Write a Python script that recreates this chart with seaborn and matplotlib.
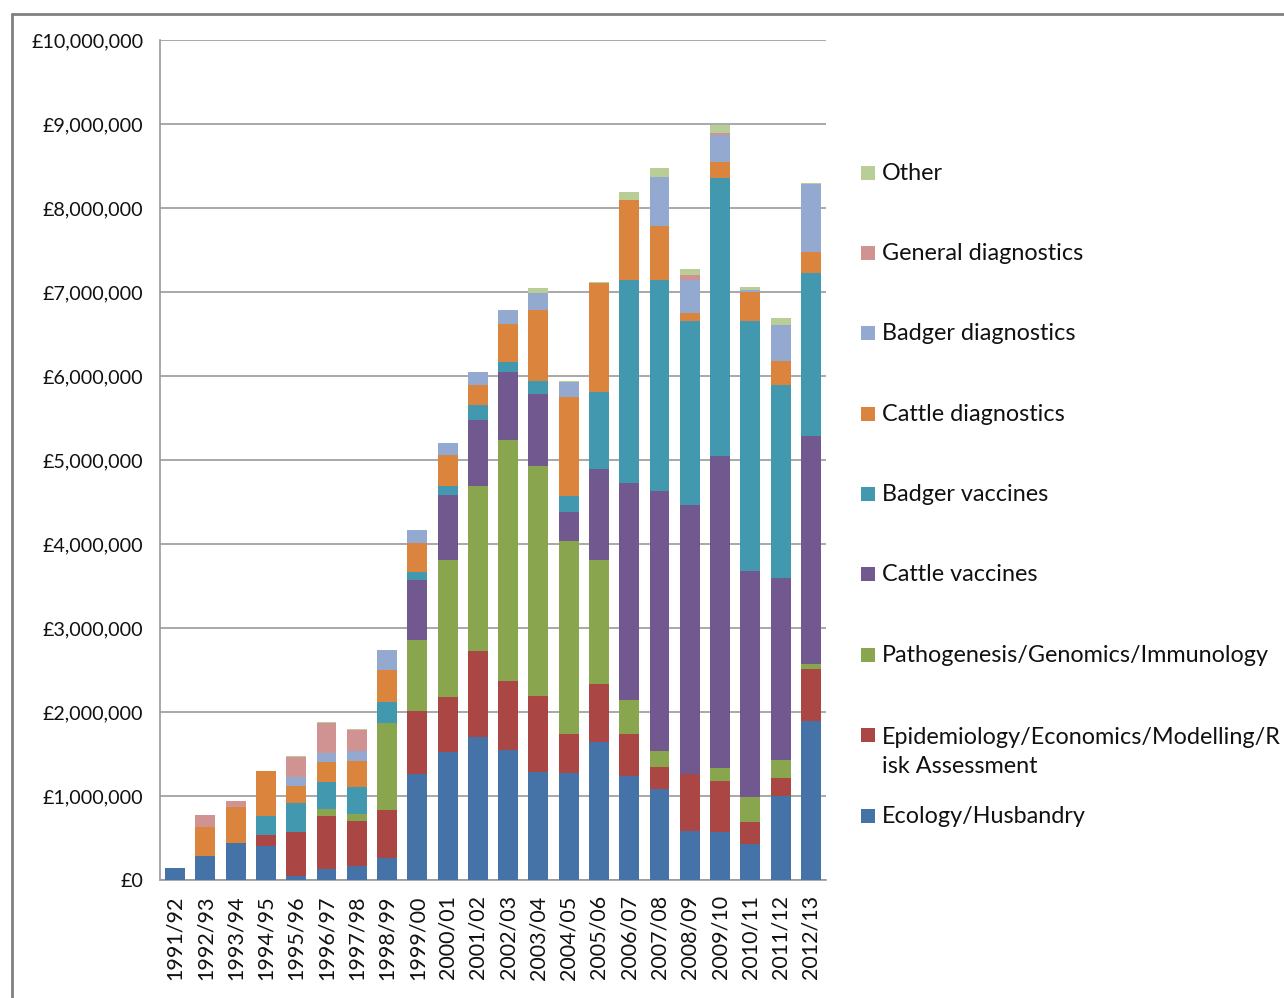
import matplotlib
matplotlib.use("Agg")
import matplotlib.pyplot as plt
import matplotlib.ticker as mticker
from matplotlib.patches import Rectangle
from matplotlib.lines import Line2D
import seaborn as sns
import numpy as np
import pandas as pd

years = ["1991/92", "1992/93", "1993/94", "1994/95", "1995/96", "1996/97", "1997/98",
         "1998/99", "1999/00", "2000/01", "2001/02", "2002/03", "2003/04", "2004/05",
         "2005/06", "2006/07", "2007/08", "2008/09", "2009/10", "2010/11", "2011/12", "2012/13"]

# values in £ millions
ecology = [0.14, 0.29, 0.44, 0.41, 0.05, 0.127, 0.17, 0.26, 1.258, 1.52, 1.70, 1.548, 1.286,
           1.268, 1.642, 1.241, 1.087, 0.584, 0.572, 0.432, 1.0, 1.893]
epidemiology = [0, 0, 0, 0.13, 0.525, 0.63, 0.536, 0.577, 0.758, 0.66, 1.026, 0.825, 0.908,
                0.467, 0.697, 0.494, 0.264, 0.678, 0.602, 0.257, 0.216, 0.619]
pathogenesis = [0, 0, 0, 0, 0, 0.087, 0.08, 1.036, 0.84, 1.633, 1.968, 2.861, 2.74,
                2.30, 1.47, 0.407, 0.181, 0, 0.164, 0.298, 0.216, 0.064]
cattle_vaccines = [0, 0, 0, 0, 0, 0, 0, 0, 0.71, 0.774, 0.786, 0.818, 0.85,
                   0.341, 1.083, 2.58, 3.10, 3.2, 3.71, 2.69, 2.16, 2.71]
badger_vaccines = [0, 0, 0, 0.225, 0.34, 0.32, 0.325, 0.25, 0.10, 0.107, 0.171, 0.115, 0.157,
                   0.197, 0.922, 2.42, 2.51, 2.19, 3.31, 2.98, 2.30, 1.935]
cattle_diagnostics = [0, 0.34, 0.425, 0.53, 0.21, 0.235, 0.306, 0.38, 0.34, 0.366, 0.238, 0.456, 0.843,
                      1.181, 1.29, 0.95, 0.64, 0.10, 0.19, 0.34, 0.29, 0.255]
badger_diagnostics = [0, 0, 0, 0, 0.10, 0.115, 0.115, 0.23, 0.16, 0.146, 0.159, 0.159, 0.21,
                      0.175, 0, 0, 0.59, 0.39, 0.32, 0.03, 0.43, 0.81]
general_diagnostics = [0, 0.14, 0.075, 0, 0.24, 0.36, 0.25, 0, 0, 0, 0, 0, 0,
                       0, 0, 0, 0, 0.06, 0.03, 0, 0, 0]
other = [0, 0, 0, 0, 0.01, 0.012, 0.01, 0, 0, 0, 0, 0, 0.056,
         0.01, 0.01, 0.10, 0.10, 0.07, 0.09, 0.03, 0.08, 0.01]

series_names = ["Ecology/Husbandry",
                "Epidemiology/Economics/Modelling/Risk Assessment",
                "Pathogenesis/Genomics/Immunology",
                "Cattle vaccines", "Badger vaccines", "Cattle diagnostics",
                "Badger diagnostics", "General diagnostics", "Other"]
legend_labels = ["Ecology/Husbandry",
                 "Epidemiology/Economics/Modelling/R\nisk Assessment",
                 "Pathogenesis/Genomics/Immunology",
                 "Cattle vaccines", "Badger vaccines", "Cattle diagnostics",
                 "Badger diagnostics", "General diagnostics", "Other"]
series_values = [ecology, epidemiology, pathogenesis, cattle_vaccines, badger_vaccines,
                 cattle_diagnostics, badger_diagnostics, general_diagnostics, other]
colors = ["#4572A7", "#AA4643", "#89A54E", "#71588F", "#4198AF", "#DB843D",
          "#93A9CF", "#D19392", "#B9CD96"]

sns.set_style("white")
plt.rcParams["font.family"] = ["Lato", "DejaVu Sans"]

fig = plt.figure(figsize=(12.84, 9.98), dpi=100)
W, H = 1284, 998
ax = fig.add_axes([160 / W, 1 - 880 / H, (826 - 160) / W, (880 - 40) / H])

vals = np.array(series_values) * 1_000_000
cum = np.cumsum(vals, axis=0)

# draw cumulative totals from top series down so lower segments overlay
for i in range(len(series_names) - 1, -1, -1):
    df = pd.DataFrame({"year": years, "value": cum[i]})
    sns.barplot(data=df, x="year", y="value", order=years, color=colors[i],
                saturation=1, width=0.66, linewidth=0, ax=ax, zorder=3)

ax.set_ylim(0, 10_000_000)
ax.set_xlim(-0.5, len(years) - 0.5)
ax.yaxis.set_major_locator(mticker.MultipleLocator(1_000_000))
ax.yaxis.set_major_formatter(mticker.FuncFormatter(lambda v, p: f"£{v:,.0f}"))
ax.grid(axis="y", color="#9a9a9a", linewidth=1.2, zorder=0)
ax.set_axisbelow(True)
ax.set_xlabel("")
ax.set_ylabel("")
for s in ["top", "right"]:
    ax.spines[s].set_visible(False)
for s in ["left", "bottom"]:
    ax.spines[s].set_color("#9a9a9a")
    ax.spines[s].set_linewidth(1.2)
ax.tick_params(axis="y", length=0, pad=12, labelsize=14.2, labelcolor="#111111")
ax.tick_params(axis="x", length=0, pad=11, labelsize=15.5, labelcolor="#111111")
plt.setp(ax.get_xticklabels(), rotation=90, va="top", ha="center")

# legend (reverse order, Excel-style)
legend_y = [815, 750.5, 654, 573, 493, 413, 332, 252, 172]
for i, name in enumerate(legend_labels):
    y = legend_y[i] + 1.5
    fy = 1 - y / H
    if "\n" in name:
        sy = 1 - 735 / H
    else:
        sy = 1 - (legend_y[i] + 1) / H
    fig.patches.append(Rectangle((861 / W, sy - 7 / H), 14 / W, 14 / H,
                                 transform=fig.transFigure, facecolor=colors[i],
                                 edgecolor="none"))
    fig.text(882 / W, fy, name, va="center", ha="left", fontsize=16.8,
             color="#111111", linespacing=1.45)

# outer chart border
fig.lines.append(Line2D([12 / W, 12 / W], [0, 1 - 14 / H], transform=fig.transFigure,
                        color="#808080", linewidth=2))
fig.lines.append(Line2D([12 / W, 1], [1 - 14 / H, 1 - 14 / H], transform=fig.transFigure,
                        color="#808080", linewidth=2))

fig.savefig("out.png", dpi=100, facecolor="white")
